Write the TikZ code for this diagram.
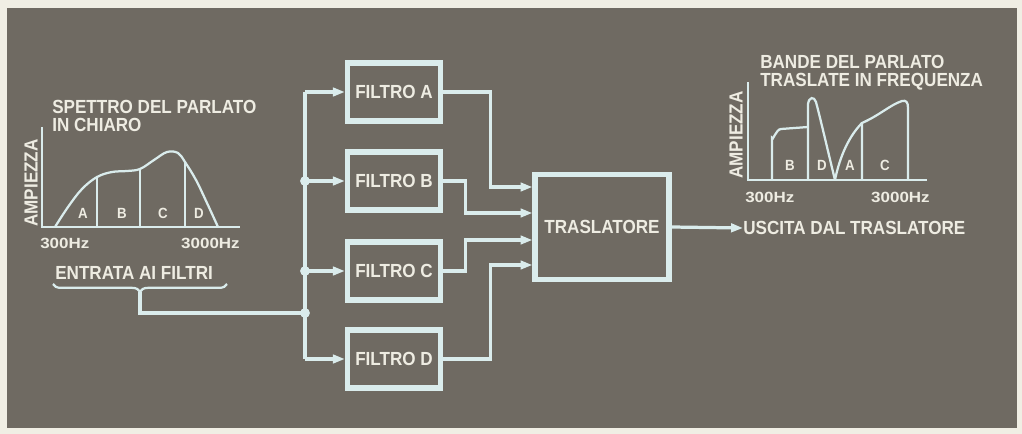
\documentclass[tikz,border=0pt]{standalone}
\usepackage{fontspec}
\setmainfont{Liberation Sans}[FakeStretch=0.9]
\newfontfamily\hzfont{Liberation Sans}[FakeStretch=1.15]
\usetikzlibrary{arrows.meta, positioning, calc, decorations.pathreplacing}
\definecolor{panel}{RGB}{111,106,98}
\definecolor{paper}{RGB}{240,238,228}
\definecolor{wire}{RGB}{218,236,236}
\definecolor{ink}{RGB}{238,236,226}

\tikzset{
  block/.style={draw=wire, line width=3.6pt, rectangle, text=ink, inner sep=0pt,
    font=\bfseries\fontsize{13.5}{15}\selectfont},
  conn/.style={wire, line width=2.3pt},
  tip/.style={-{Triangle[length=8.5pt,width=6pt]}},
  curve/.style={wire, line width=1.6pt},
  lbl/.style={text=ink, inner sep=0pt, font=\bfseries\fontsize{13.5}{15}\selectfont},
  band/.style={text=ink, inner sep=0pt, font=\bfseries\fontsize{10.5}{12}\selectfont},
  freq/.style={text=ink, inner sep=0pt, font=\hzfont\bfseries\fontsize{10.5}{12}\selectfont},
  jdot/.style={circle, fill=wire, inner sep=0pt, minimum size=7pt},
}

\begin{document}
\begin{tikzpicture}[x=0.025cm, y=-0.025cm]
  \useasboundingbox (0,0) rectangle (1022,434);
  \fill[paper] (0,0) rectangle (1022,434);
  \fill[panel] (7,8) rectangle (1017,428);

  % filter bank
  \node[block, minimum width=2.33cm, minimum height=1.45cm] (fA) at (394,92) {FILTRO A};
  \node[block, minimum width=2.33cm, minimum height=1.45cm] (fB) at (394,181) {FILTRO B};
  \node[block, minimum width=2.33cm, minimum height=1.45cm] (fC) at (394,271) {FILTRO C};
  \node[block, minimum width=2.33cm, minimum height=1.45cm] (fD) at (394,359) {FILTRO D};
  \node[block, minimum width=3.35cm, minimum height=2.62cm] (tr) at (602,227) {TRASLATORE};

  % input bus
  \coordinate (busA) at (305,92);
  \coordinate (busB) at (305,181);
  \coordinate (busC) at (305,271);
  \coordinate (jIn) at (305,313);
  \coordinate (busD) at (305,359);
  \draw[conn] (busA) -- (busD);
  \draw[conn,tip] (busA) -- (fA.west);
  \draw[conn,tip] (busB) -- (fB.west);
  \draw[conn,tip] (busC) -- (fC.west);
  \draw[conn,tip] (busD) -- (fD.west);
  \node[jdot] at (busB) {};
  \node[jdot] at (busC) {};
  \node[jdot] at (jIn) {};

  % input label and brace
  \node[lbl, anchor=base west] (entr) at (55,279) {ENTRATA AI FILTRI};
  \draw[curve, decorate, decoration={brace, mirror, amplitude=5.5pt}] (53,284) -- (227,284);
  \coordinate (brTip) at (140,292);
  \draw[conn] (brTip) |- (jIn);

  % filter outputs into the translator
  \coordinate (inA) at ($(tr.west)+(0,-40)$);
  \coordinate (inB) at ($(tr.west)+(0,-14)$);
  \coordinate (inC) at ($(tr.west)+(0,13)$);
  \coordinate (inD) at ($(tr.west)+(0,38)$);
  \draw[conn,tip] (fA.east) -| ($(inA)+(-42,0)$) -- (inA);
  \draw[conn,tip] (fB.east) -| ($(inB)+(-67,0)$) -- (inB);
  \draw[conn,tip] (fC.east) -| ($(inC)+(-67,0)$) -- (inC);
  \draw[conn,tip] (fD.east) -| ($(inD)+(-42,0)$) -- (inD);

  % output
  \node[lbl, anchor=west] (out) at (743,228) {USCITA DAL TRASLATORE};
  \draw[conn,tip] (tr.east) -- (out.west);

  % spectrum in clear
  \node[lbl, anchor=base west] at (52,113) {SPETTRO DEL PARLATO};
  \node[lbl, anchor=base west] at (52,131) {IN CHIARO};
  \node[lbl, rotate=90] at (31,183) {AMPIEZZA};
  \draw[curve] (42,127) -- (42,227) -- (240,227);
  \draw[curve] plot[smooth, tension=0.6] coordinates {(55,227) (68,207) (82,189)
    (97,177) (112,172) (127,171) (140,169) (154,160) (167,152) (178,153) (185,162)
    (196,180) (207,203) (218,227)};
  \draw[curve] (97,227) -- (97,177);
  \draw[curve] (140,227) -- (140,169);
  \draw[curve] (185,227) -- (185,162);
  \node[band] at (83,213) {A};
  \node[band] at (122,213) {B};
  \node[band] at (163,213) {C};
  \node[band] at (199,213) {D};
  \node[freq, anchor=base west] at (40,248) {300Hz};
  \node[freq, anchor=base east] at (240,248) {3000Hz};

  % translated bands
  \node[lbl, anchor=base west] at (760,68) {BANDE DEL PARLATO};
  \node[lbl, anchor=base west] at (760,86) {TRASLATE IN FREQUENZA};
  \node[lbl, rotate=90] at (736,135) {AMPIEZZA};
  \draw[curve] (748,82) -- (748,180) -- (927,180);
  \draw[curve] (772,180) -- (772,138) to[out=-90,in=180] (781,129) -- (808,127);
  \draw[curve] (808,180) -- (808,104) .. controls (809,97) and (814,96) .. (816,102)
    .. controls (822,125) and (830,160) .. (835,180);
  \draw[curve] (835,180) .. controls (840,155) and (850,135) .. (862,123);
  \draw[curve] (862,180) -- (862,123) .. controls (880,115) and (890,105) .. (902,101)
    .. controls (906,100) and (908,102) .. (908,108) -- (908,180);
  \node[band] at (790,165) {B};
  \node[band] at (822,165) {D};
  \node[band] at (850,165) {A};
  \node[band] at (885,165) {C};
  \node[freq, anchor=base west] at (745,202) {300Hz};
  \node[freq, anchor=base east] at (930,202) {3000Hz};
\end{tikzpicture}
\end{document}
